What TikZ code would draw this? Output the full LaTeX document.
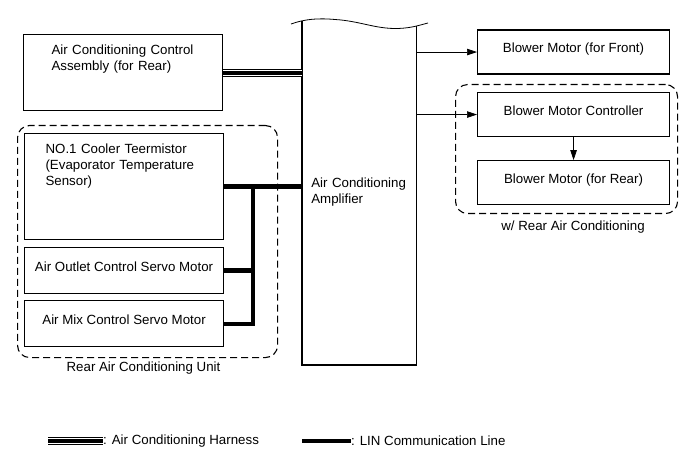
\documentclass[tikz,border=0pt]{standalone}
\usepackage{fontspec}
\setmainfont{Liberation Sans}
\usepackage{tikz}
\usetikzlibrary{shapes,arrows,arrows.meta,positioning}

\begin{document}
\begin{tikzpicture}[
    x=1pt, y=-1pt,
    font=\fontsize{13.3}{16}\selectfont,
    box/.style={rectangle, draw=black, line width=1.1pt, anchor=north west, minimum width=192pt, minimum height=44pt, text height=9.5pt, text depth=8pt},
    textbox/.style={rectangle, draw=black, line width=1.1pt, anchor=north west, align=left, inner ysep=6pt, text height=13.5pt},
    group/.style={rectangle, draw=black, line width=1.1pt, dash pattern=on 7pt off 4pt, rounded corners=12pt, anchor=north west, inner sep=0pt},
    arrow/.style={line width=0.7pt, -{Triangle[length=10pt,width=6.5pt]}},
    lin/.style={line width=4.5pt},
    harness/.style={line width=4pt, preaction={draw, line width=8pt}, preaction={draw, white, line width=6pt}}
]
\useasboundingbox (0,0) rectangle (691,465);

% Groups
\node[group, minimum width=260pt, minimum height=232pt] (rearunit) at (17,125) {};
\node[group, minimum width=222pt, minimum height=129pt] (rearac) at (455,84) {};
\node (unitlabel) at (143.5,368) {Rear Air Conditioning Unit};
\node (rearaclabel) at (573,227.5) {w/ Rear Air Conditioning};

% Units
\node[textbox, text width=143pt, inner xsep=28pt, text depth=50.5pt] (acctrl) at (23,34) {Air Conditioning Control\\Assembly (for Rear)};
\node[textbox, text width=157pt, inner xsep=21pt, text depth=80.5pt] (cooler) at (24,133) {NO.1 Cooler Teermistor\\(Evaporator Temperature\\Sensor)};
\node[box, minimum width=199pt, minimum height=46pt, below=7pt of cooler] (outlet) {Air Outlet Control Servo Motor};
\node[box, minimum width=199pt, minimum height=46pt, below=6pt of outlet] (mix) {Air Mix Control Servo Motor};
\node[rectangle, anchor=south west, outer sep=0pt, minimum width=114.7pt, minimum height=345pt, text width=96pt, inner xsep=9.35pt, align=left] (amp) at (302,365) {Air Conditioning\\Amplifier};
\node[box] (front) at (477,29.5) {Blower Motor (for Front)};
\node[box] (ctrl) at (477,92) {Blower Motor Controller};
\node[box, below=23pt of ctrl] (rearmotor) {Blower Motor (for Rear)};

% Amplifier outline
\draw[line width=1.1pt] (amp.south west |- 0,21) -- (amp.south west) -- (amp.south east) -- (amp.south east |- 0,26.5);
\draw[line width=0.8pt] (291,24) .. controls (305,19) and (318,18) .. (335,19.5) .. controls (360,21) and (375,29) .. (398,28.5) .. controls (412,28) and (420,25) .. (428,23);

% Lines
\coordinate (bus) at (253,186);
\draw[harness] (acctrl.east) -- (acctrl.east -| amp.west);
\draw[lin] (cooler.east) -- (cooler.east -| amp.west);
\draw[lin] (outlet.east) -- (outlet.east -| bus);
\draw[lin] (mix.east) -| (bus);

% Arrows
\draw[arrow] (front.west -| amp.east) -- (front.west);
\draw[arrow] (ctrl.west -| amp.east) -- (ctrl.west);
\draw[arrow] (ctrl.south) -- (rearmotor.north);

% Legend
\node[anchor=west, inner xsep=0pt] (harnesskey) at (103,441) {: Air Conditioning Harness};
\node[anchor=west, inner xsep=0pt] (linkey) at (351,441) {: LIN Communication Line};
\draw[harness] ([xshift=-55pt]harnesskey.west) -- (harnesskey.west);
\draw[lin] ([xshift=-49pt]linkey.west) -- (linkey.west);
\end{tikzpicture}
\end{document}
